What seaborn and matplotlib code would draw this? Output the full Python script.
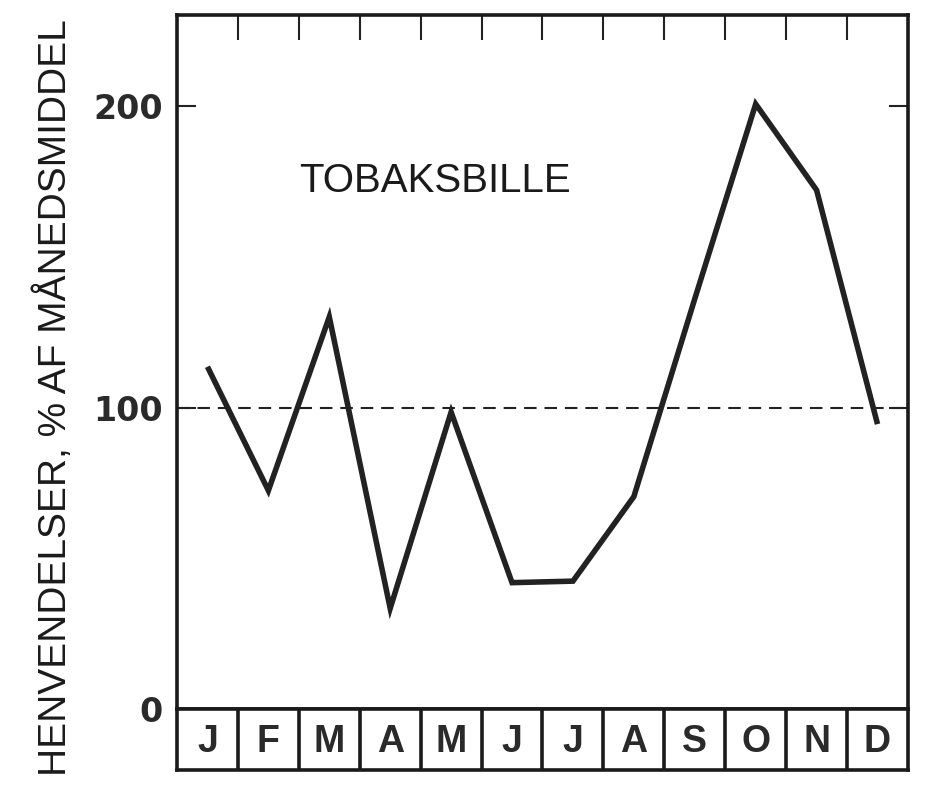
import matplotlib
matplotlib.use("Agg")
import numpy as np
import pandas as pd
import matplotlib.pyplot as plt
import seaborn as sns

# data
months = ["J", "F", "M", "A", "M", "J", "J", "A", "S", "O", "N", "D"]
values = [113.5, 72.5, 130, 33.5, 98.5, 42, 42.5, 70.5, 136, 200.5, 172, 94.5]
y_ticks = [0, 100, 200]
mean_level = 100
species = "TOBAKSBILLE"
y_title = "HENVENDELSER, % AF MÅNEDSMIDDEL"

sns.set_style("white")
plt.rcParams["font.family"] = ["Liberation Sans", "DejaVu Sans"]

df = pd.DataFrame({"pos": np.arange(len(months)), "val": values})

fig = plt.figure(figsize=(9.41, 7.92), dpi=100)
ax = fig.add_axes([0.1881, 0.1042, 0.7768, 0.8769])
strip = fig.add_axes([0.1881, 0.0278, 0.7768, 0.0764])

# main curve
sns.lineplot(data=df, x="pos", y="val", ax=ax, color="#222222", linewidth=4.0,
             solid_joinstyle="miter", solid_capstyle="butt", clip_on=False)
ax.axhline(mean_level, color="#222222", linewidth=1.5, dashes=(6, 3.8))

ax.set_xlim(-0.5, len(months) - 0.5)
ax.set_ylim(0, 230)
ax.set_xlabel("")
ax.set_ylabel("")

# ticks at month boundaries along the top
ax.set_xticks(np.arange(len(months) - 1) + 0.5)
ax.tick_params(axis="x", bottom=False, top=True, labelbottom=False, labeltop=False,
               direction="in", length=18, width=1.5, color="#222222")
ax.set_yticks(y_ticks)
ax.set_yticklabels([str(t) for t in y_ticks])
ax.tick_params(axis="y", left=True, right=True, direction="in", length=14, width=1.5,
               color="#222222", pad=10, labelsize=24, labelcolor="#2a2a2a")
for lbl in ax.get_yticklabels():
    lbl.set_fontfamily("DejaVu Sans")
    lbl.set_fontweight("bold")
for s in ax.spines.values():
    s.set_visible(True)
    s.set_linewidth(2.6)
    s.set_color("#1a1a1a")

ax.text(3.74, 175, species, ha="center", va="center", fontsize=29, color="#1a1a1a")

fig.text(0.058, 0.498, y_title, rotation=90, ha="center", va="center",
         fontsize=28, color="#1a1a1a")

# month label strip
strip.set_xlim(-0.5, len(months) - 0.5)
strip.set_ylim(0, 1)
strip.set_xticks([])
strip.set_yticks([])
for b in np.arange(len(months) - 1) + 0.5:
    strip.axvline(b, color="#1a1a1a", linewidth=2.6)
for i, m in enumerate(months):
    strip.text(i, 0.47, m, ha="center", va="center", fontsize=27, fontweight="bold",
               color="#2a2a2a")
for s in strip.spines.values():
    s.set_visible(True)
    s.set_linewidth(2.6)
    s.set_color("#1a1a1a")

plt.savefig("out.png", dpi=100)
plt.close("all")
